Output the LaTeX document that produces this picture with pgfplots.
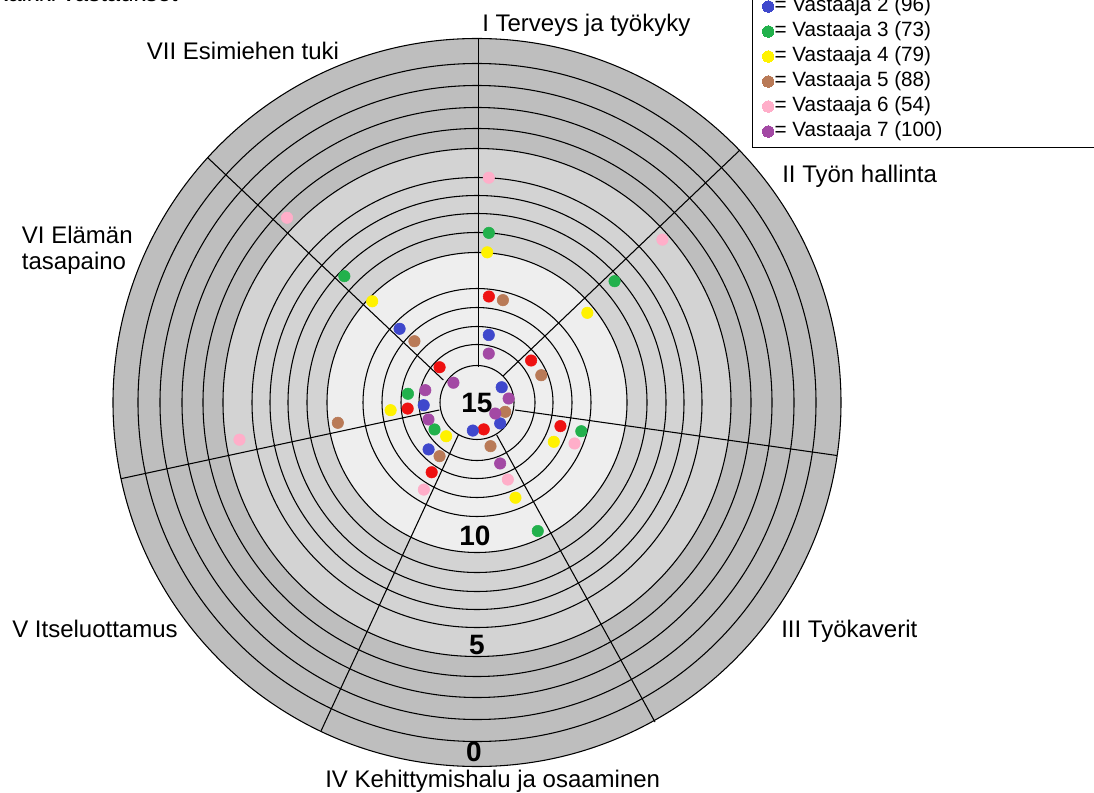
\documentclass[border=0pt]{standalone}
\usepackage{pgfplots}
\usepackage{pgfplotstable}
\pgfplotsset{compat=1.18}
\usepackage{fontspec}
\setmainfont{Liberation Sans}

\definecolor{cRed}{HTML}{EE1111}
\definecolor{cBlue}{HTML}{3F48CC}
\definecolor{cGreen}{HTML}{22B14C}
\definecolor{cYellow}{HTML}{FFF200}
\definecolor{cBrown}{HTML}{B97A57}
\definecolor{cPink}{HTML}{FFAEC9}
\definecolor{cPurple}{HTML}{A349A4}
\definecolor{bandDark}{HTML}{BEBEBE}
\definecolor{bandMid}{HTML}{D3D3D3}
\definecolor{bandLight}{HTML}{EEEEEE}

% t = angle of the point (degrees), s = score (0 = outer edge, 15 = centre ring)
\pgfplotstableread{
t s
83.6 11.78
37.8 13.52
-15.8 12.69
-75.9 15.38
-123.0 12.85
185.0 13.47
136.7 14.30
}\rOne
\pgfplotstableread{
t s
80.1 13.52
31.7 15.32
-42.1 15.22
-98.5 15.35
-135.9 13.57
182.9 14.21
136.4 11.77
}\rTwo
\pgfplotstableread{
t s
86.0 8.89
41.4 8.28
-15.4 11.71
-64.7 10.16
-147.6 14.35
172.8 13.47
136.4 8.29
}\rThree
\pgfplotstableread{
t s
86.1 9.78
39.1 10.16
-27.1 12.71
-68.0 11.96
-132.4 14.56
185.1 12.69
136.0 10.00
}\rFour
\pgfplotstableread{
t s
75.8 11.83
23.0 13.46
-18.3 15.29
-72.8 14.56
-124.9 13.66
188.3 10.23
135.6 12.65
}\rFive
\pgfplotstableread{
t s
87.0 6.38
41.3 5.39
-22.8 11.82
-68.2 12.86
-121.4 11.99
188.9 5.68
135.8 4.56
}\rSix
\pgfplotstableread{
t s
76.5 14.35
7.2 15.19
-31.1 15.67
-69.2 13.67
-160.7 14.30
166.6 14.22
140.0 15.24
}\rSeven

\newcommand{\legtxt}[1]{\makebox[300pt][l]{#1}}

\begin{document}
\begin{tikzpicture}[x=0.75pt,y=0.75pt]
\useasboundingbox (-477,-389.5) rectangle (617,402.5);
\clip (-477,-389.5) rectangle (617,402.5);
\begin{axis}[
  anchor=origin, at={(0,0)},
  x=0.75pt, y=0.75pt,
  xmin=-477, xmax=617, ymin=-389.5, ymax=402.5,
  hide axis, clip=false,
  legend style={at={(axis cs:275,254.5)}, anchor=south west,
    draw=black, line width=0.75pt, fill=white,
    font=\fontsize{15.5pt}{18pt}\selectfont,
    inner xsep=7.5pt, inner ysep=5pt, row sep=4.75pt, column sep=0.5pt,
    nodes={inner sep=0pt, text height=11pt, text depth=3pt}},
  legend cell align=left,
  legend image code/.code={\draw[#1,line width=0pt] plot coordinates {(0pt,0pt)};},
  every axis plot/.append style={only marks, mark=*, mark size=4.3pt},
]
% background bands
\fill[bandDark] (axis cs:0,0) circle[radius=364];
\fill[bandMid] (axis cs:0,0) circle[radius=254];
\fill[bandLight] (axis cs:0,0) circle[radius=150];
% rings
\pgfplotsinvokeforeach{37,58,76,95,114,150,170,189,207,225,254,274,295,317,339,364}{
  \draw[black, line width=0.8pt] (axis cs:0,0) circle[radius=#1];
}
% spokes (from the central ring to the outer edge)
\draw[black, line width=0.8pt] (axis cs:1.5,35.5) -- (axis cs:1.5,364);
\draw[black, line width=0.8pt] (axis cs:26,26.5) -- (axis cs:263,252.5);
\draw[black, line width=0.8pt] (axis cs:38,-7.5) -- (axis cs:360,-53);
\draw[black, line width=0.8pt] (axis cs:19.7,-32.5) -- (axis cs:178,-319.5);
\draw[black, line width=0.8pt] (axis cs:-18.7,-32.5) -- (axis cs:-156,-328.5);
\draw[black, line width=0.8pt] (axis cs:-37.7,-7.5) -- (axis cs:-356,-76.2);
\draw[black, line width=0.8pt] (axis cs:-33.7,22.5) -- (axis cs:-269.5,245);
% scale numbers
\node[font=\fontsize{21pt}{21pt}\selectfont\bfseries] at (axis cs:0,-1) {15};
\node[font=\fontsize{21pt}{21pt}\selectfont\bfseries] at (axis cs:-2,-133) {10};
\node[font=\fontsize{21pt}{21pt}\selectfont\bfseries] at (axis cs:0,-242.5) {5};
\node[font=\fontsize{21pt}{21pt}\selectfont\bfseries] at (axis cs:-3,-349) {0};
% dimension labels
\begin{scope}[every node/.style={font=\fontsize{18pt}{22pt}\selectfont, anchor=base west, inner sep=0pt}]
\node at (axis cs:-485,400.5) {Kaikki vastaukset};
\node at (axis cs:5,370.5) {I Terveys ja työkyky};
\node at (axis cs:305,220) {II Työn hallinta};
\node at (axis cs:304,-234.5) {III Työkaverit};
\node at (axis cs:-152,-384.5) {IV Kehittymishalu ja osaaminen};
\node at (axis cs:-465,-234.5) {V Itseluottamus};
\node at (axis cs:-455.3,159.2) {VI Elämän};
\node at (axis cs:-455.3,132.5) {tasapaino};
\node at (axis cs:-330.3,342.5) {VII Esimiehen tuki};
\end{scope}
% data
\addplot[color=cRed] table[x expr={(365-21.93*\thisrow{s})*cos(\thisrow{t})}, y expr={(365-21.93*\thisrow{s})*sin(\thisrow{t})}] {\rOne};
\addlegendentry{\legtxt{= Vastaaja 1 (85)}}
\addplot[color=cBlue] table[x expr={(365-21.93*\thisrow{s})*cos(\thisrow{t})}, y expr={(365-21.93*\thisrow{s})*sin(\thisrow{t})}] {\rTwo};
\addlegendentry{\legtxt{= Vastaaja 2 (96)}}
\addplot[color=cGreen] table[x expr={(365-21.93*\thisrow{s})*cos(\thisrow{t})}, y expr={(365-21.93*\thisrow{s})*sin(\thisrow{t})}] {\rThree};
\addlegendentry{\legtxt{= Vastaaja 3 (73)}}
\addplot[color=cYellow] table[x expr={(365-21.93*\thisrow{s})*cos(\thisrow{t})}, y expr={(365-21.93*\thisrow{s})*sin(\thisrow{t})}] {\rFour};
\addlegendentry{\legtxt{= Vastaaja 4 (79)}}
\addplot[color=cBrown] table[x expr={(365-21.93*\thisrow{s})*cos(\thisrow{t})}, y expr={(365-21.93*\thisrow{s})*sin(\thisrow{t})}] {\rFive};
\addlegendentry{\legtxt{= Vastaaja 5 (88)}}
\addplot[color=cPink] table[x expr={(365-21.93*\thisrow{s})*cos(\thisrow{t})}, y expr={(365-21.93*\thisrow{s})*sin(\thisrow{t})}] {\rSix};
\addlegendentry{\legtxt{= Vastaaja 6 (54)}}
\addplot[color=cPurple] table[x expr={(365-21.93*\thisrow{s})*cos(\thisrow{t})}, y expr={(365-21.93*\thisrow{s})*sin(\thisrow{t})}] {\rSeven};
\addlegendentry{\legtxt{= Vastaaja 7 (100)}}
\end{axis}
\end{tikzpicture}
\end{document}
